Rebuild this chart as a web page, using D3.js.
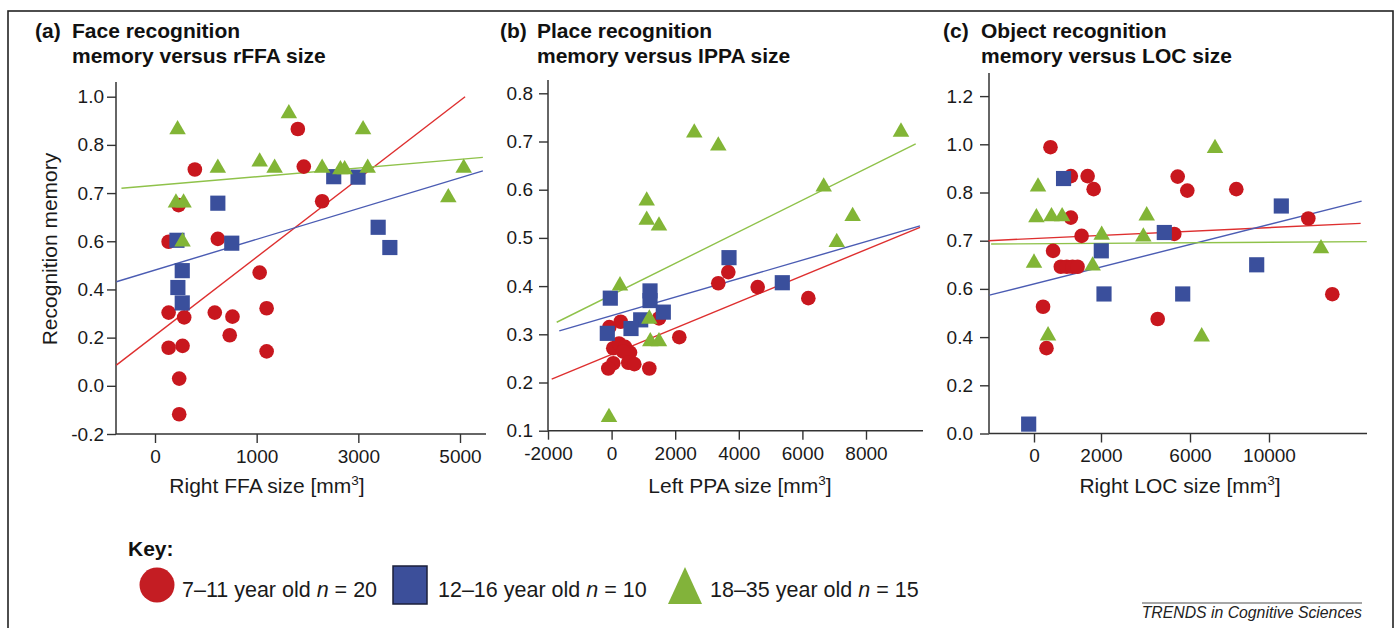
<!DOCTYPE html>
<html>
<head>
<meta charset="utf-8">
<script src="https://cdn.jsdelivr.net/npm/d3@7"></script>
<style>
  body { margin: 0; background: #fff; }
  svg { display: block; font-family: "Liberation Sans", Arial, sans-serif; }
</style>
</head>
<body>
<svg id="chart" width="1397" height="628"></svg>
<script>
// groups shown in the key
var groupNames = ["7\u201311 year old", "12\u201316 year old", "18\u201335 year old"];
var groupN = [20, 10, 15];

// (a) face recognition vs right FFA size  [size mm3, memory]
var faceChild = [[1810,0.866],[1927,0.755],[392,0.749],[2288,0.683],[232,0.675],[134,0.598],[618,0.605],
  [1059,0.47],[134,0.304],[287,0.284],[588,0.304],[762,0.287],[1196,0.322],[735,0.21],[134,0.158],
  [271,0.166],[1196,0.143],[238,0.03],[238,-0.118]];
var faceTeen = [[2516,0.734],[2994,0.733],[618,0.679],[3390,0.629],[3620,0.574],[755,0.592],[216,0.602],
  [268,0.478],[225,0.408],[268,0.344]];
var faceAdult = [[1633,0.93],[222,0.864],[3093,0.864],[1059,0.765],[618,0.752],[1353,0.752],[2288,0.752],
  [2647,0.749],[2731,0.749],[3184,0.752],[5073,0.752],[4770,0.691],[206,0.68],[281,0.68],[271,0.598]];
var faceFits = [[[-380,0.086],[5100,1.0]], [[-380,0.432],[5450,0.746]], [[-330,0.71],[5450,0.774]]];
var faceXTicks = [0, 1000, 3000, 5000];
var faceYTicks = [-0.2, 0.0, 0.2, 0.4, 0.6, 0.7, 0.8, 1.0];

// (b) place recognition vs left PPA size
var placeChild = [[3670,0.429],[3355,0.406],[4594,0.398],[6186,0.375],[1490,0.333],[286,0.326],[-72,0.315],
  [2129,0.294],[53,0.271],[233,0.281],[421,0.274],[579,0.262],[368,0.264],[53,0.24],[525,0.241],
  [714,0.238],[-104,0.229],[1186,0.229]];
var placeTeen = [[3692,0.459],[5368,0.407],[-41,0.375],[1208,0.39],[1208,0.37],[1626,0.346],[915,0.33],
  [610,0.312],[-135,0.302]];
var placeAdult = [[2600,0.718],[3355,0.691],[9100,0.72],[6670,0.606],[1104,0.577],[1104,0.537],[1490,0.525],
  [7580,0.545],[7080,0.491],[264,0.401],[1186,0.332],[1217,0.285],[1490,0.285],[-82,0.128]];
var placeFits = [[[-1884,0.207],[9698,0.522]], [[-1645,0.307],[9698,0.525]], [[-1726,0.325],[9563,0.695]]];
var placeXTicks = [-2000, 0, 2000, 4000, 6000, 8000];
var placeYTicks = [0.1, 0.2, 0.3, 0.4, 0.5, 0.6, 0.7, 0.8];

// (c) object recognition vs right LOC size
var objectChild = [[492,0.988],[1100,0.868],[1601,0.868],[1781,0.814],[5447,0.866],[5879,0.808],[8344,0.814],
  [11990,0.746],[1100,0.748],[1421,0.71],[5294,0.714],[570,0.679],[800,0.646],[980,0.646],[1150,0.646],
  [1300,0.646],[13205,0.578],[270,0.526],[4548,0.475],[372,0.354]];
var objectTeen = [[882,0.858],[10623,0.772],[4845,0.717],[2013,0.679],[9377,0.65],[2135,0.579],[5672,0.579],
  [-159,0.039]];
var objectAdult = [[7266,0.984],[120,0.824],[72,0.748],[522,0.75],[840,0.75],[4054,0.752],[2031,0.712],
  [3903,0.708],[12633,0.684],[0,0.654],[1751,0.648],[420,0.406],[6592,0.402]];
var objectFits = [[[-1360,0.70],[14640,0.736]], [[-1330,0.574],[14690,0.782]], [[-1280,0.693],[14950,0.698]]];
var objectXTicks = [0, 2000, 6000, 10000];
var objectYTicks = [0.0, 0.2, 0.4, 0.6, 0.7, 0.8, 1.0, 1.2];

var markColors = ["#c8171e", "#3a4f9c", "#82b536"];
var lineColors = ["#de2f2f", "#4b5cb3", "#8fc24a"];

function spread(a, b, n) {
  return d3.range(n).map(function(i) { return a + (b - a) * i / (n - 1); });
}
// plain hyphen for negatives, like the original
function fmt1(d) { return d.toFixed(1); }
function fmt0(d) { return String(d); }

var panels = [
  { tag: "(a)", t1: "Face recognition", t2: "memory versus rFFA size", tx: 35, mx: 72,
    xlab: "Right FFA size [mm", xlabX: 267,
    groups: [faceChild, faceTeen, faceAdult], fits: faceFits,
    xt: faceXTicks, yt: faceYTicks,
    left: 116, right: 486, top: 82, bottom: 434,
    xpx: spread(155, 460, 4), ypx: spread(434, 96.7, 8), ypad: 3 },
  { tag: "(b)", t1: "Place recognition", t2: "memory versus IPPA size", tx: 500, mx: 537,
    xlab: "Left PPA size [mm", xlabX: 740,
    groups: [placeChild, placeTeen, placeAdult], fits: placeFits,
    xt: placeXTicks, yt: placeYTicks,
    left: 548, right: 923, top: 80, bottom: 430.7,
    xpx: spread(548, 866, 6), ypx: spread(430.7, 93.3, 8), ypad: 6 },
  { tag: "(c)", t1: "Object recognition", t2: "memory versus LOC size", tx: 943, mx: 981,
    xlab: "Right LOC size [mm", xlabX: 1180,
    groups: [objectChild, objectTeen, objectAdult], fits: objectFits,
    xt: objectXTicks, yt: objectYTicks,
    left: 989, right: 1367, top: 73, bottom: 433.5,
    xpx: [1034, 1101, 1190, 1269], ypx: spread(433.5, 96.1, 8), ypad: 7 }
];

var svg = d3.select("#chart");

svg.append("rect")
  .attr("x", 8).attr("y", 11).attr("width", 1385).attr("height", 640)
  .attr("fill", "none").attr("stroke", "#222").attr("stroke-width", 1.6);

var shapes = [d3.symbolCircle, d3.symbolSquare, d3.symbolTriangle];
var sizes = [168, 230, 118];

panels.forEach(function(p) {
  var x = d3.scaleLinear().domain(p.xt).range(p.xpx);
  var y = d3.scaleLinear().domain(p.yt).range(p.ypx);
  var g = svg.append("g");

  // title
  var t = g.append("g").attr("font-weight", "bold").attr("font-size", 21).attr("fill", "#111");
  t.append("text").attr("x", p.tx).attr("y", 38).text(p.tag);
  t.append("text").attr("x", p.mx).attr("y", 38).text(p.t1);
  t.append("text").attr("x", p.mx).attr("y", 63).text(p.t2);

  // axes
  var xa = g.append("g").attr("transform", "translate(0," + p.bottom + ")")
    .call(d3.axisBottom(x).tickValues(p.xt).tickFormat(fmt0).tickSize(9).tickPadding(6.5).tickSizeOuter(0));
  var ya = g.append("g").attr("transform", "translate(" + p.left + ",0)")
    .call(d3.axisLeft(y).tickValues(p.yt).tickFormat(fmt1).tickSize(9).tickPadding(p.ypad).tickSizeOuter(0));
  [xa, ya].forEach(function(a) {
    a.select(".domain").remove();
    a.selectAll("line").attr("stroke", "#333").attr("stroke-width", 1.4);
    a.selectAll("text").attr("font-size", 19).attr("fill", "#1a1a1a")
      .attr("font-family", "Liberation Sans, Arial, sans-serif");
  });
  g.append("line").attr("x1", p.left).attr("x2", p.right).attr("y1", p.bottom).attr("y2", p.bottom)
    .attr("stroke", "#333").attr("stroke-width", 1.5);
  g.append("line").attr("x1", p.left).attr("x2", p.left).attr("y1", p.top).attr("y2", p.bottom)
    .attr("stroke", "#333").attr("stroke-width", 1.5);

  // x axis title with superscript
  var xl = g.append("text").attr("x", p.xlabX).attr("y", 493).attr("text-anchor", "middle")
    .attr("font-size", 21).attr("fill", "#1a1a1a");
  xl.append("tspan").text(p.xlab);
  xl.append("tspan").attr("dy", -8).attr("font-size", 13.5).text("3");
  xl.append("tspan").attr("dy", 8).text("]");

  // fitted lines
  p.fits.forEach(function(f, i) {
    g.append("line")
      .attr("x1", x(f[0][0])).attr("y1", y(f[0][1]))
      .attr("x2", x(f[1][0])).attr("y2", y(f[1][1]))
      .attr("stroke", lineColors[i]).attr("stroke-width", 1.4);
  });

  // points
  p.groups.forEach(function(pts, i) {
    g.append("g").selectAll("path").data(pts).enter().append("path")
      .attr("d", d3.symbol().type(shapes[i]).size(sizes[i]))
      .attr("transform", function(d) { return "translate(" + x(d[0]) + "," + y(d[1]) + ")"; })
      .attr("fill", markColors[i]);
  });
});

// y axis title (panel a only)
svg.append("text").attr("transform", "translate(57,249) rotate(-90)")
  .attr("text-anchor", "middle").attr("font-size", 21).attr("fill", "#1a1a1a")
  .text("Recognition memory");

// key
svg.append("text").attr("x", 128).attr("y", 556).attr("font-weight", "bold").attr("font-size", 21)
  .attr("fill", "#111").text("Key:");

var keyX = [157, 410, 685];
var keyTextX = [182, 438, 710];
var key = svg.append("g");
key.append("circle").attr("cx", keyX[0]).attr("cy", 585).attr("r", 17.5).attr("fill", "#c41d23");
key.append("rect").attr("x", keyX[1] - 17).attr("y", 566).attr("width", 34).attr("height", 38)
  .attr("fill", "#3c4f9a").attr("stroke", "#1b1f3a").attr("stroke-width", 1.5);
key.append("path").attr("d", "M" + (keyX[2] - 17) + ",604L" + (keyX[2] + 17) + ",604L" + keyX[2] + ",567Z")
  .attr("fill", "#82b33a");
groupNames.forEach(function(name, i) {
  var tx = key.append("text").attr("x", keyTextX[i]).attr("y", 597).attr("font-size", 21.5).attr("fill", "#1a1a1a");
  tx.append("tspan").text(name + " ");
  tx.append("tspan").attr("font-style", "italic").text("n");
  tx.append("tspan").text(" = " + groupN[i]);
});

// source
svg.append("line").attr("x1", 1142).attr("x2", 1362).attr("y1", 603).attr("y2", 603)
  .attr("stroke", "#888").attr("stroke-width", 1.5);
svg.append("text").attr("x", 1362).attr("y", 618).attr("text-anchor", "end")
  .attr("font-style", "italic").attr("font-size", 15.8).attr("fill", "#222")
  .text("TRENDS in Cognitive Sciences");
</script>
</body>
</html>
